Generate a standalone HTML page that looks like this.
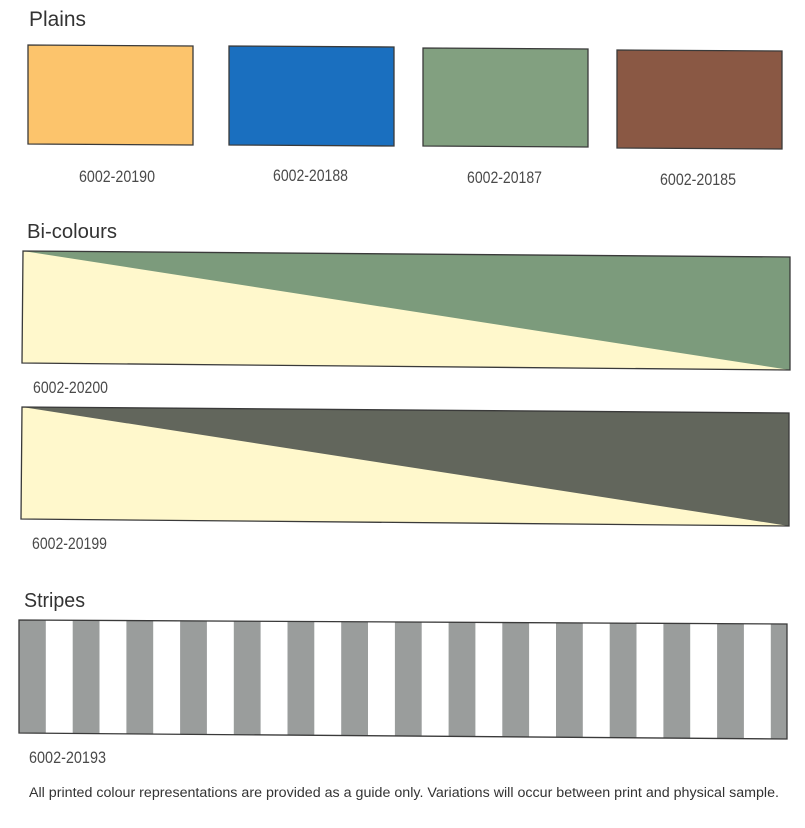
<!DOCTYPE html>
<html>
<head>
<meta charset="utf-8">
<style>
html,body{margin:0;padding:0;background:#fff;}
svg{display:block;}
text{font-family:"Liberation Sans",sans-serif;}
</style>
</head>
<body>
<svg width="805" height="828" viewBox="0 0 805 828" xmlns="http://www.w3.org/2000/svg">
  <rect x="0" y="0" width="805" height="828" fill="#ffffff"/>

  <!-- Plains -->
  <text x="29" y="26" font-size="21" fill="#333" textLength="57" lengthAdjust="spacingAndGlyphs">Plains</text>

  <polygon points="28,45 193,46 193,145 28,144" fill="#fcc46c" stroke="#3a3a3a" stroke-width="1.3"/>
  <polygon points="229,46 394,47 394,146 229,145" fill="#1a6fbf" stroke="#3a3a3a" stroke-width="1.3"/>
  <polygon points="423,48 588,49 588,147 423,146" fill="#82a080" stroke="#3a3a3a" stroke-width="1.3"/>
  <polygon points="617,50 782,51 782,149 617,148" fill="#8a5844" stroke="#3a3a3a" stroke-width="1.3"/>

  <text x="79" y="182" font-size="16.5" fill="#4a4a4a" textLength="76" lengthAdjust="spacingAndGlyphs">6002-20190</text>
  <text x="273" y="181" font-size="16.5" fill="#4a4a4a" textLength="75" lengthAdjust="spacingAndGlyphs">6002-20188</text>
  <text x="467" y="183" font-size="16.5" fill="#4a4a4a" textLength="75" lengthAdjust="spacingAndGlyphs">6002-20187</text>
  <text x="660" y="185" font-size="16.5" fill="#4a4a4a" textLength="76" lengthAdjust="spacingAndGlyphs">6002-20185</text>

  <!-- Bi-colours -->
  <text x="27" y="238" font-size="20.5" fill="#333" textLength="90" lengthAdjust="spacingAndGlyphs">Bi-colours</text>

  <polygon points="23,251 790,257 790,370 22,363" fill="#fff8cc"/>
  <polygon points="23,251 790,257 790,370" fill="#7c9b7c"/>
  <polygon points="23,251 790,257 790,370 22,363" fill="none" stroke="#3a3a3a" stroke-width="1.3"/>
  <text x="33" y="393" font-size="16.5" fill="#4a4a4a" textLength="75" lengthAdjust="spacingAndGlyphs">6002-20200</text>

  <polygon points="22,407 789,413 789,526 21,519" fill="#fff8cc"/>
  <polygon points="22,407 789,413 789,526" fill="#62665c"/>
  <polygon points="22,407 789,413 789,526 21,519" fill="none" stroke="#3a3a3a" stroke-width="1.3"/>
  <text x="32" y="549" font-size="16.5" fill="#4a4a4a" textLength="75" lengthAdjust="spacingAndGlyphs">6002-20199</text>

  <!-- Stripes -->
  <text x="24" y="607" font-size="20.5" fill="#333" textLength="61" lengthAdjust="spacingAndGlyphs">Stripes</text>

  <defs>
    <clipPath id="sc">
      <polygon points="19,620 787,624 787,739 19,733"/>
    </clipPath>
  </defs>
  <g clip-path="url(#sc)">
    <rect x="19" y="615" width="770" height="130" fill="#ffffff"/>
    <g fill="#9a9d9c">
      <rect x="19" y="615" width="26.8" height="130"/>
      <rect x="72.7" y="615" width="26.8" height="130"/>
      <rect x="126.4" y="615" width="26.8" height="130"/>
      <rect x="180.1" y="615" width="26.8" height="130"/>
      <rect x="233.8" y="615" width="26.8" height="130"/>
      <rect x="287.5" y="615" width="26.8" height="130"/>
      <rect x="341.2" y="615" width="26.8" height="130"/>
      <rect x="394.9" y="615" width="26.8" height="130"/>
      <rect x="448.6" y="615" width="26.8" height="130"/>
      <rect x="502.3" y="615" width="26.8" height="130"/>
      <rect x="556.0" y="615" width="26.8" height="130"/>
      <rect x="609.7" y="615" width="26.8" height="130"/>
      <rect x="663.4" y="615" width="26.8" height="130"/>
      <rect x="717.1" y="615" width="26.8" height="130"/>
      <rect x="770.8" y="615" width="26.8" height="130"/>
    </g>
  </g>
  <polygon points="19,620 787,624 787,739 19,733" fill="none" stroke="#3a3a3a" stroke-width="1.3"/>
  <text x="29" y="763" font-size="16.5" fill="#4a4a4a" textLength="77" lengthAdjust="spacingAndGlyphs">6002-20193</text>

  <!-- Footer -->
  <text x="29" y="797" font-size="13.5" fill="#333" textLength="750" lengthAdjust="spacingAndGlyphs">All printed colour representations are provided as a guide only. Variations will occur between print and physical sample.</text>
</svg>
</body>
</html>
